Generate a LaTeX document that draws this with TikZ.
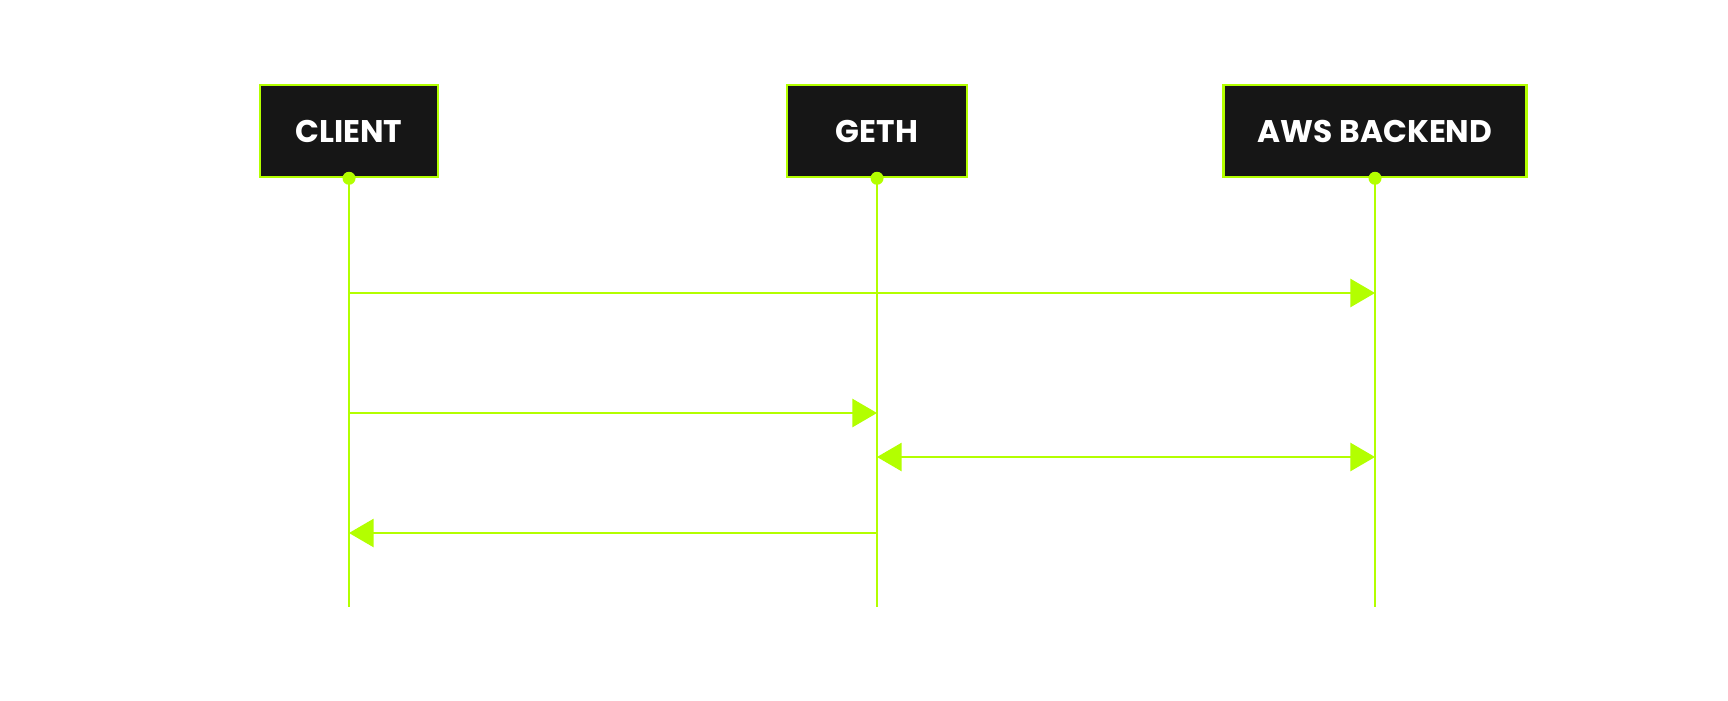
\documentclass[tikz,border=0pt]{standalone}
\usepackage{fontspec}
\setmainfont{Poppins}
\usetikzlibrary{arrows.meta}
\definecolor{lime}{HTML}{B3FF00}
\definecolor{boxfill}{HTML}{161616}
\tikzset{
  actor/.style={draw=lime, line width=0.7pt, fill=boxfill, text=white,
    font=\fontsize{8.9}{10}\selectfont\bfseries, minimum height=0.92cm, inner sep=0pt},
  life/.style={draw=lime, line width=0.6pt},
  msg/.style={draw=lime, line width=0.6pt, -{Triangle[length=7pt,width=8pt]}},
  twoway/.style={draw=lime, line width=0.6pt, {Triangle[length=7pt,width=8pt]}-{Triangle[length=7pt,width=8pt]}}
}
\begin{document}
\begin{tikzpicture}[x=0.01cm, y=-0.01cm]
\useasboundingbox[fill=white] (0,0) rectangle (1728,700);
\node[actor, minimum width=1.78cm] (client) at (349,131) {CLIENT};
\node[actor, minimum width=1.80cm] (geth) at (877,131) {GETH};
\node[actor, minimum width=3.03cm] (aws) at (1375,131) {AWS BACKEND};
% lifelines
\coordinate (clientEnd) at (349,607);
\coordinate (gethEnd) at (877,607);
\coordinate (awsEnd) at (1375,607);
\draw[life] (client.south) -- (clientEnd);
\draw[life] (geth.south) -- (gethEnd);
\draw[life] (aws.south) -- (awsEnd);
\fill[lime] (client.south) circle[radius=0.065cm];
\fill[lime] (geth.south) circle[radius=0.065cm];
\fill[lime] (aws.south) circle[radius=0.065cm];
% messages
\coordinate (c1) at (349,293);
\coordinate (a1) at (1375,293);
\coordinate (c2) at (349,413);
\coordinate (g2) at (877,413);
\coordinate (g3) at (877,457);
\coordinate (a3) at (1375,457);
\coordinate (g4) at (877,533);
\coordinate (c4) at (349,533);
\draw[msg] (c1) -- (a1);
\draw[msg] (c2) -- (g2);
\draw[twoway] (g3) -- (a3);
\draw[msg] (g4) -- (c4);
\end{tikzpicture}
\end{document}
